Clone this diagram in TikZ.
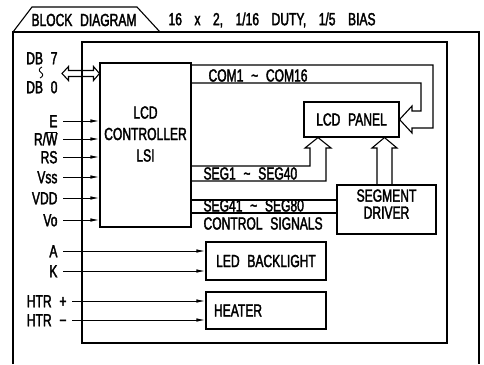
\documentclass[tikz,border=0pt]{standalone}
\usepackage{fontspec}
\setmainfont[FakeStretch=0.69,FakeBold=2,WordSpace=2.3]{Liberation Sans}
\usepackage{tikz}
\usetikzlibrary{arrows.meta,positioning}

\begin{document}
\begin{tikzpicture}[x=1pt, y=-1pt, line width=1.1pt,
  font=\fontsize{17.5}{21.5}\selectfont,
  box/.style={draw, line width=1.1pt, inner sep=0pt},
  sig/.style={anchor=east, inner xsep=5pt, inner ysep=0pt,
              text height=12.5pt, text depth=0pt},
  txt/.style={anchor=base west, inner sep=0pt},
  arr/.style={-{Latex[length=9pt,width=3.5pt]}, line width=1pt}]
\useasboundingbox (0,0) rectangle (484,364);
% frame with title tab
\draw (13,364) -- (13,32) -- (479,32) -- (479,364);
\draw (13,32) -- (32,7) -- (137,7) -- (160,32);
\node (tab) at (84,20) {BLOCK DIAGRAM};
\node[anchor=west, inner sep=0pt] (spec) at (168,20)
  {\spaceskip=12.5pt 16 x 2, 1/16 DUTY, 1/5 BIAS};
% module outline
\draw (82,42) rectangle (447,343);
% blocks
\node[box, minimum width=91pt, minimum height=164pt] (ctrl) at (145.5,145) {};
\node[align=center] (ctrltxt) at (145.5,134) {LCD\\CONTROLLER\\LSI};
\node[box, minimum width=95pt, minimum height=35pt] (panel) at (351.5,119.5) {LCD PANEL};
\node[box, minimum width=99pt, minimum height=49pt] (drv) at (386.5,209.5) {};
\node[align=center, font=\fontsize{17.5}{17}\selectfont] (drvtxt) at (386.5,204) {SEGMENT\\DRIVER};
\node[box, minimum width=120pt, minimum height=38pt] (led) at (266,261) {LED BACKLIGHT};
\node[box, text width=104pt, inner xsep=8pt, minimum height=37pt, align=left] (heat) at (266,310.5) {HEATER};
% data bus
\node[sig] (db7) at (63,58) {DB 7};
\node[sig] (db0) at (63,87) {DB 0};
\draw[line width=0.9pt] (42,67) .. controls (38.5,68.5) and (38.5,71) .. (41,72.5)
  .. controls (43.5,74) and (43.5,76.5) .. (40,78);
\coordinate (dbend) at (62,73.5);
\draw (dbend) -- (68.5,66.5) -- (68.5,70.5) -- (93.5,70.5) -- (93.5,66.5)
  -- (ctrl.west |- dbend) -- (93.5,80.5) -- (93.5,76.5) -- (68.5,76.5)
  -- (68.5,80.5) -- cycle;
% control inputs
\node[sig] (sE) at (63,121) {E};
\node[sig] (sRW) at (63,139) {R/$\overline{\hbox{W}}$};
\node[sig] (sRS) at (63,157) {RS};
\node[sig] (sVss) at (63,177) {Vss};
\node[sig] (sVdd) at (63,198) {VDD};
\node[sig] (sVo) at (63,220) {Vo};
\foreach \s in {sE,sRW,sRS,sVss,sVdd,sVo}
  \draw[arr] (\s.east) -- (\s -| ctrl.west);
% backlight and heater inputs
\node[sig] (sA) at (63,251) {A};
\node[sig] (sK) at (63,271) {K};
\node[sig] (sHp) at (72,301) {HTR +};
\node[sig] (sHm) at (72,320) {HTR −};
\draw[arr] (sA.east) -- (sA -| led.west);
\draw[arr] (sK.east) -- (sK -| led.west);
\draw[arr] (sHp.east) -- (sHp -| heat.west);
\draw[arr] (sHm.east) -- (sHm -| heat.west);
% common lines
\draw (ctrl.east |- 0,65) -| (433,128) -- (412,128) -- (412,133) -- (panel.east)
  -- (412,106) -- (412,111) -| (421,83) -- (ctrl.east |- 0,83);
\node[txt] (com) at (208,81.5) {COM1 \textasciitilde\ COM16};
% segment lines
\draw (ctrl.east |- 0,166) -- (310,166) -- (310,148) -- (305,148)
  -- (panel.south -| 318,0) -- (331,148) -- (326,148) -- (326,181)
  -- (ctrl.east |- 0,181);
\node[txt] (seg1) at (203,179.5) {SEG1 \textasciitilde\ SEG40};
\draw (drv.north -| 377,0) -- (377,148) -- (372,148) -- (panel.south -| 384.5,0)
  -- (397,148) -- (392,148) -- (drv.north -| 392,0);
\draw (ctrl.east |- 0,200) -- (drv.west |- 0,200);
\draw (ctrl.east |- 0,213) -- (drv.west |- 0,213);
\node[txt] (seg41) at (203,211.5) {SEG41 \textasciitilde\ SEG80};
\node[txt] (ctl) at (203,229.5) {CONTROL SIGNALS};
\end{tikzpicture}
\end{document}
